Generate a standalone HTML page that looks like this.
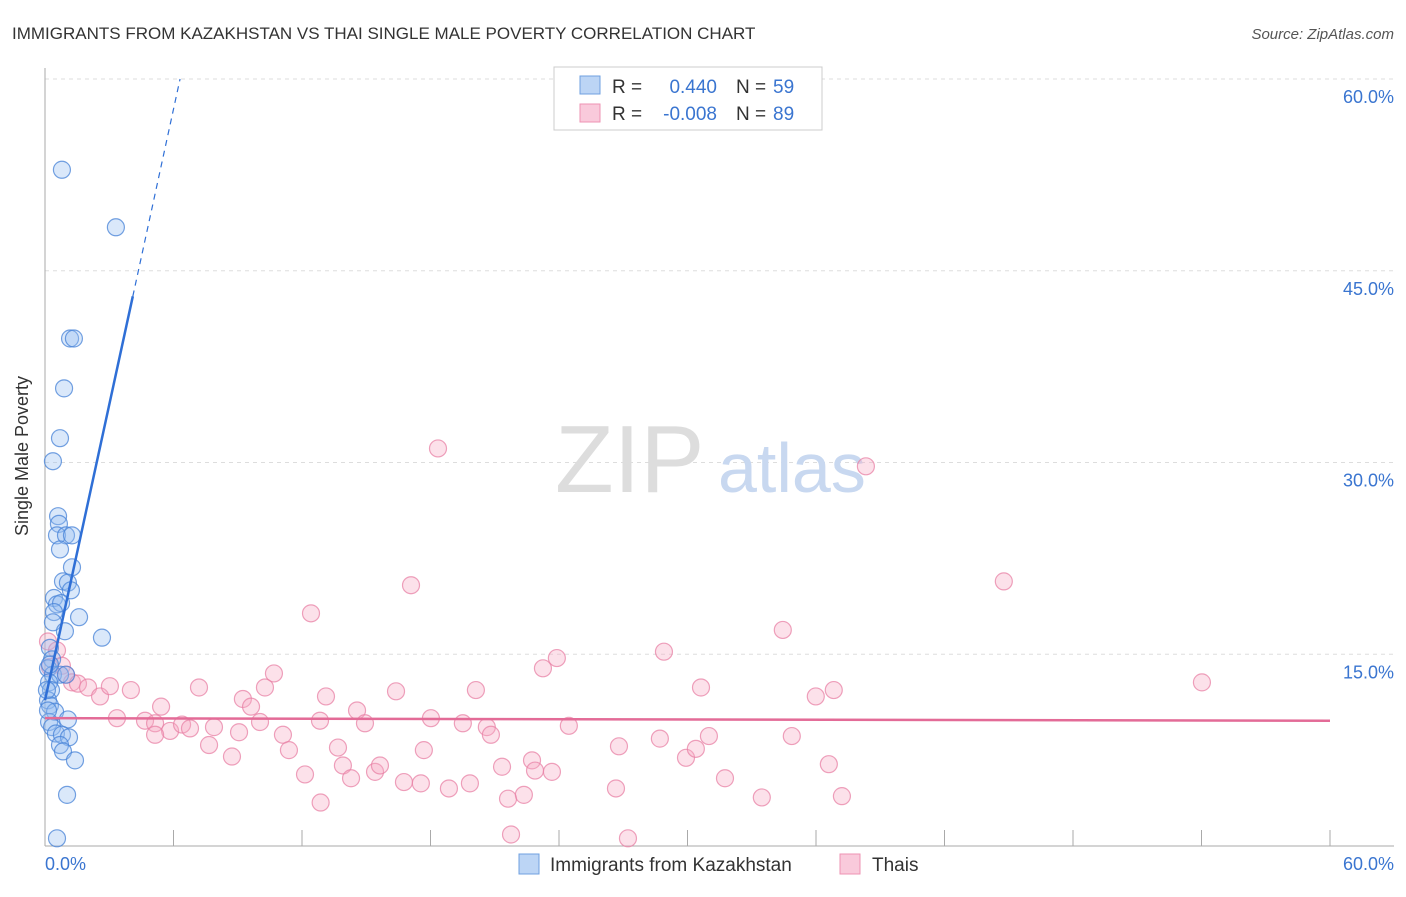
<!DOCTYPE html>
<html><head><meta charset="utf-8"><style>
body{margin:0;background:#fff;font-family:"Liberation Sans",sans-serif;}
svg text{font-family:"Liberation Sans",sans-serif;}
</style></head><body>
<svg width="1406" height="892">
<text x="12" y="39" font-size="17" fill="#333">IMMIGRANTS FROM KAZAKHSTAN VS THAI SINGLE MALE POVERTY CORRELATION CHART</text>
<text x="1394" y="39" font-size="15" fill="#555" font-style="italic" text-anchor="end">Source: ZipAtlas.com</text>
<g id="grid"></g>
<text x="555" y="492" font-size="96" fill="#ddd" font-family="Liberation Serif">ZIP</text>
<text x="718" y="492" font-size="70" fill="#c8d8f0">atlas</text>
<line x1="45" y1="68" x2="45" y2="846" stroke="#aaa"/>
<line x1="45" y1="846" x2="1394" y2="846" stroke="#aaa"/>
<text x="28" y="456" font-size="18" fill="#333" transform="rotate(-90 28 456)" text-anchor="middle">Single Male Poverty</text>
<text x="45" y="870" font-size="18" fill="#3a75d0">0.0%</text>
<text x="1394" y="870" font-size="18" fill="#3a75d0" text-anchor="end">60.0%</text>
<g id="pts"></g>
<g id="trend"></g>
<g>
<rect x="554" y="67" width="268" height="63" fill="#fff" stroke="#ccc"/>
<rect x="580" y="76" width="20" height="18" fill="#bcd5f5" stroke="#6fa0e0"/>
<rect x="580" y="104" width="20" height="18" fill="#f9cadb" stroke="#ee93b3"/>
<text x="612" y="93" font-size="19" fill="#333">R =</text>
<text x="717" y="93" font-size="19" fill="#3a75d0" text-anchor="end">0.440</text>
<text x="736" y="93" font-size="19" fill="#333">N =</text>
<text x="773" y="93" font-size="19" fill="#3a75d0">59</text>
<text x="612" y="120" font-size="19" fill="#333">R =</text>
<text x="717" y="120" font-size="19" fill="#3a75d0" text-anchor="end">-0.008</text>
<text x="736" y="120" font-size="19" fill="#333">N =</text>
<text x="773" y="120" font-size="19" fill="#3a75d0">89</text>
</g>
<g>
<rect x="519" y="854" width="20" height="20" fill="#bcd5f5" stroke="#6fa0e0"/>
<text x="550" y="871" font-size="19" fill="#333">Immigrants from Kazakhstan</text>
<rect x="840" y="854" width="20" height="20" fill="#f9cadb" stroke="#ee93b3"/>
<text x="872" y="871" font-size="19" fill="#333">Thais</text>
</g>
</svg>
<script>
const yTicks=[15,30,45,60];
const xTicks=[0,6,12,18,24,30,36,42,48,54,60];
const blueX=[0.79,3.31,1.17,1.35,0.89,0.70,0.37,0.61,0.65,0.56,0.98,1.26,0.70,1.26,0.84,1.07,1.21,0.42,0.56,0.75,0.42,1.59,0.37,0.93,2.66,0.23,0.33,0.14,0.37,0.70,0.98,0.19,0.28,0.14,0.23,0.47,1.07,0.19,0.33,0.51,0.79,1.12,0.70,0.84,1.40,1.03,0.56,0.09,0.23,0.14];
const blueY=[52.9,48.4,39.7,39.7,35.8,31.9,30.1,25.8,25.2,24.3,24.3,24.3,23.2,21.8,20.7,20.6,20.0,19.4,18.9,19.0,18.3,17.9,17.5,16.8,16.3,15.5,14.6,13.9,13.4,13.4,13.4,12.8,12.2,11.4,11.0,10.5,9.9,9.7,9.3,8.8,8.7,8.5,7.9,7.4,6.7,4.0,0.6,12.2,14.2,10.6];
const pinkX=[18.35,38.33,44.77,17.09,12.42,34.45,28.90,23.90,23.25,54.02,10.69,0.14,0.56,0.79,0.23,0.98,1.26,1.54,2.01,2.57,3.03,4.01,5.42,7.19,9.24,9.62,10.27,13.12,16.39,20.12,30.63,36.83,35.99,3.36,4.67,5.14,5.84,6.40,6.77,7.89,9.06,10.04,11.11,12.84,14.57,14.94,18.02,19.51,20.63,20.82,24.46,5.14,7.66,8.73,11.39,13.68,17.69,26.80,28.71,29.93,30.39,31.00,34.87,36.60,12.14,13.91,14.29,15.41,15.64,16.76,17.55,18.86,19.84,21.34,22.74,22.88,23.67,31.75,12.87,21.62,22.36,26.66,33.47,37.21,21.76,27.22];
const pinkY=[31.1,29.7,20.7,20.4,18.2,16.9,15.2,14.7,13.9,12.8,13.5,16.0,15.3,14.1,14.0,13.4,12.8,12.7,12.4,11.7,12.5,12.2,10.9,12.4,11.5,10.9,12.4,11.7,12.1,12.2,12.4,12.2,11.7,10.0,9.8,9.6,9.0,9.5,9.2,9.3,8.9,9.7,8.7,9.8,10.6,9.6,10.0,9.6,9.3,8.7,9.4,8.7,7.9,7.0,7.5,7.7,7.5,7.8,8.4,6.9,7.6,8.6,8.6,6.4,5.6,6.3,5.3,5.8,6.3,5.0,4.9,4.5,4.9,6.2,6.7,5.9,5.8,5.3,3.4,3.7,4.0,4.5,3.8,3.9,0.9,0.6];
const blueTrend=[0,4.1,11.4,43.0];
const pinkTrend=[0,60,10.0,9.8];
const NS='http://www.w3.org/2000/svg';
const X=v=>45+v*(1330-45)/60, Y=v=>846-v*(846-79)/60;
function mk(t,a,p){const e=document.createElementNS(NS,t);for(const k in a)e.setAttribute(k,a[k]);p.appendChild(e);return e;}
const grid=document.getElementById('grid');
yTicks.forEach(v=>{
 const l=mk('line',{x1:45,x2:1394,y1:Y(v),y2:Y(v),stroke:'#ddd','stroke-dasharray':'4,4'},grid);
 
 
 const t=mk('text',{x:1394,y:Y(v)+24,'font-size':18,fill:'#3a75d0','text-anchor':'end'},grid);
 t.textContent=v.toFixed(1)+'%';
 
 
});
xTicks.forEach(v=>{
 const l=mk('line',{x1:X(v),x2:X(v),y1:830,y2:846,stroke:'#aaa'},grid);
 
 
});
const pts=document.getElementById('pts');
pinkX.forEach((x,i)=>{
 const c=mk('circle',{cx:X(x),cy:Y(pinkY[i]),r:8.5,fill:'rgba(246,170,196,0.35)',stroke:'rgba(232,130,165,0.75)','stroke-width':1.2},pts);
 
 
});
blueX.forEach((x,i)=>{
 const c=mk('circle',{cx:X(x),cy:Y(blueY[i]),r:8.5,fill:'rgba(150,190,240,0.35)',stroke:'rgba(70,130,215,0.75)','stroke-width':1.2},pts);
 
 
});
const tr=document.getElementById('trend');
const slope=(blueTrend[3]-blueTrend[2])/(blueTrend[1]-blueTrend[0]);
const xEnd=blueTrend[1]+(60-blueTrend[3])/slope;
let a=mk('line',{x1:X(blueTrend[0]),y1:Y(blueTrend[2]),x2:X(blueTrend[1]),y2:Y(blueTrend[3]),stroke:'#2f6fd6','stroke-width':2.5},tr);


a=mk('line',{x1:X(blueTrend[1]),y1:Y(blueTrend[3]),x2:X(xEnd),y2:Y(60),stroke:'#2f6fd6','stroke-width':1.2,'stroke-dasharray':'6,5'},tr);


a=mk('line',{x1:X(pinkTrend[0]),y1:Y(pinkTrend[2]),x2:X(pinkTrend[1]),y2:Y(pinkTrend[3]),stroke:'#e36b97','stroke-width':2.5},tr);


</script>
</body></html>
